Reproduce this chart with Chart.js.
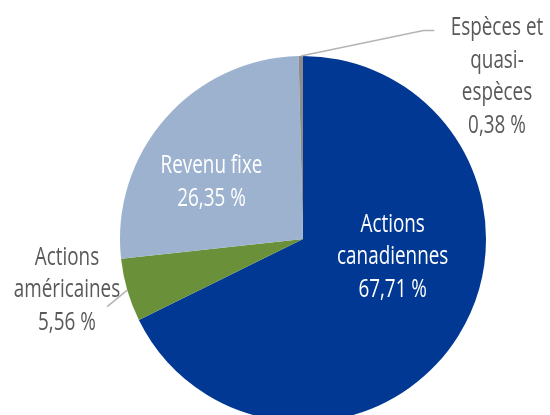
<!DOCTYPE html>
<html>
<head>
<meta charset="utf-8">
<script src="https://cdn.jsdelivr.net/npm/chart.js@4/dist/chart.umd.min.js"></script>
<style>
    html, body { margin: 0; padding: 0; background: #ffffff; overflow: hidden; }
    #wrap { position: absolute; left: 0; top: 0; width: 550px; height: 478px; }
</style>
</head>
<body>
<div id="wrap"><canvas id="graphiqueRepartition"></canvas></div>
<script>
// Répartition de l'actif (%)
const categories = ['Actions canadiennes', 'Actions américaines', 'Revenu fixe', 'Espèces et quasi-espèces'];
const valeurs = [67.71, 5.56, 26.35, 0.38];
const couleurs = ['#003893', '#6a913a', '#9cb2cf', '#8c8c8c'];

// Étiquettes (lignes de texte) pour chaque tranche
const etiquettes = [
    ['Actions', 'canadiennes', '67,71 %'],
    ['Actions', 'américaines', '5,56 %'],
    ['Revenu fixe', '26,35 %'],
    ['Espèces et', 'quasi-', 'espèces', '0,38 %']
];

const POLICE = "25px 'Open Sans', sans-serif";
const ETIREMENT = 0.755; // police plus étroite, comme l'original
const INTERLIGNE = 32.5;

// position du texte relative au centre (en fraction du rayon), trait de rappel éventuel
const placement = [
    { fx: 0.49, fy: 0.10, couleur: '#ffffff' },
    { fx: -1.29, fy: 0.28, couleur: '#595959', trait: [[-0.11, 0.09]] },
    { fx: -0.50, fy: -0.31, couleur: '#ffffff' },
    { fx: 1.06, fy: -0.885, couleur: '#595959', trait: [[0.67, -0.14], [0.73, -0.14]] }
];

const pluginEtiquettes = {
    id: 'etiquettes',
    afterDatasetsDraw(chart) {
        const ctx = chart.ctx;
        const arcs = chart.getDatasetMeta(0).data;
        ctx.save();
        ctx.font = POLICE;
        ctx.textAlign = 'center';
        ctx.textBaseline = 'middle';
        arcs.forEach((arc, i) => {
            const p = placement[i];
            const { x, y, outerRadius, startAngle, endAngle } = arc.getProps(['x', 'y', 'outerRadius', 'startAngle', 'endAngle'], true);
            const milieu = (startAngle + endAngle) / 2;
            if (p.trait) {
                // départ sur le bord de la tranche
                const bx = x + Math.cos(milieu) * outerRadius;
                const by = y + Math.sin(milieu) * outerRadius;
                ctx.beginPath();
                ctx.moveTo(bx, by);
                p.trait.forEach(([dx, dy]) => {
                    ctx.lineTo(bx + dx * outerRadius, by + dy * outerRadius);
                });
                ctx.strokeStyle = '#b4b4b4';
                ctx.lineWidth = 1.5;
                ctx.stroke();
            }
            const lignes = etiquettes[i];
            const cx = x + p.fx * outerRadius;
            const cy = y + p.fy * outerRadius;
            ctx.fillStyle = p.couleur;
            lignes.forEach((t, j) => {
                ctx.save();
                ctx.translate(cx, cy + (j - (lignes.length - 1) / 2) * INTERLIGNE);
                ctx.scale(ETIREMENT, 1);
                ctx.fillText(t, 0, 0);
                ctx.restore();
            });
        });
        ctx.restore();
    }
};

const ctx = document.getElementById('graphiqueRepartition').getContext('2d');

new Chart(ctx, {
    type: 'pie',
    data: {
        labels: categories,
        datasets: [{
            data: valeurs,
            backgroundColor: couleurs,
            borderWidth: 0,
            hoverOffset: 0,
            offset: 0
        }]
    },
    options: {
        responsive: true,
        maintainAspectRatio: false,
        animation: false,
        layout: {
            padding: { top: 56, bottom: 56, left: 120, right: 64 }
        },
        plugins: {
            legend: { display: false },
            tooltip: { enabled: false },
            title: { display: false }
        }
    },
    plugins: [pluginEtiquettes]
});
</script>
</body>
</html>
